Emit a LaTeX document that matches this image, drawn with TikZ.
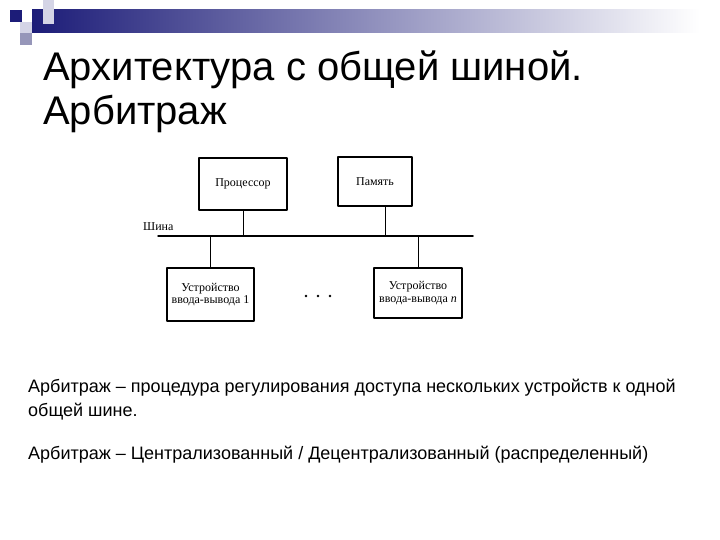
\documentclass[tikz,border=0pt]{standalone}
\usepackage{fontspec}
\setmainfont{Liberation Sans}
\newfontfamily\schemefont{Liberation Serif}
\definecolor{navy}{RGB}{28,28,120}
\definecolor{haze}{RGB}{170,170,195}
\definecolor{lilac}{RGB}{212,212,230}
\definecolor{slate}{RGB}{150,150,185}
\begin{document}
\begin{tikzpicture}[x=1pt,y=-1pt,line join=round,line cap=round,
	blok/.style={draw,line width=1.6pt,inner sep=0pt,font=\schemefont\fontsize{12}{12.5}\selectfont,align=center},
	shina/.style={line width=1.5pt},
	otvod/.style={line width=0.7pt},
	stroka/.style={anchor=base west,inner sep=0pt}]
	\useasboundingbox (0,0) rectangle (720,540);
	% шапка слайда
	\shade[left color=navy,middle color=haze,right color=white,shading angle=90] (32,10) rectangle (700,33);
	\fill[lilac] (43,0) rectangle (54,24);
	\fill[lilac] (20,22) rectangle (32,33);
	\fill[slate] (20,33) rectangle (32,45);
	\fill[navy] (10,10) rectangle (22,22);
	% заголовок
	\node[stroka,font=\fontsize{40}{40}\selectfont] (t1) at (43,81) {Архитектура с общей шиной.};
	\node[stroka,font=\fontsize{40}{40}\selectfont] (t2) at (43,125) {Арбитраж};
	% схема
	\node[blok,minimum width=88,minimum height=52] (proc) at (243,184) {Процессор};
	\node[blok,minimum width=74,minimum height=49] (mem) at (375,181.5) {Память};
	\node[blok,minimum width=87,minimum height=53] (io1) at (210.5,294.5) {Устройство\\ввода-вывода 1};
	\node[blok,minimum width=88,minimum height=50] (ion) at (418,293) {Устройство\\ввода-вывода \textit{n}};
	\path (158,236) coordinate (busL) (473,236) coordinate (busR);
	\draw[shina] (busL) -- (busR);
	\node[anchor=west,inner sep=0pt,font=\schemefont\fontsize{12}{12}\selectfont] (shl) at (143,227) {Шина};
	\foreach \x in {306,318,330}{\fill (\x,296) circle(1.4);}
	\draw[otvod] (proc.south) -- (proc.south |- busL);
	\draw[otvod] (mem.south -| 385,0) -- (385,0 |- busL);
	\foreach \u in {io1,ion}{\draw[otvod] (\u.north) -- (\u.north |- busL);}
	% текст
	\node[stroka,font=\fontsize{18}{18}\selectfont] (p1) at (28,392) {Арбитраж – процедура регулирования доступа нескольких устройств к одной};
	\node[stroka,font=\fontsize{18}{18}\selectfont] (p2) at (28,416) {общей шине.};
	\node[stroka,font=\fontsize{18}{18}\selectfont] (p3) at (28,459) {Арбитраж – Централизованный / Децентрализованный (распределенный)};
\end{tikzpicture}
\end{document}
